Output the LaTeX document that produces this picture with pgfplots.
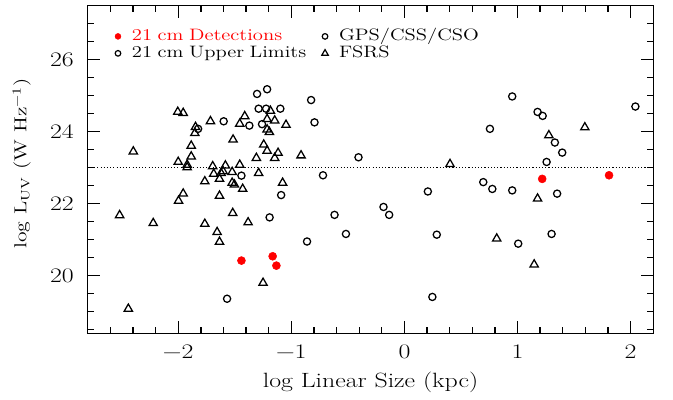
\documentclass[border=0pt]{standalone}
\usepackage{fontspec}
\setmainfont{Latin Modern Roman}[FakeStretch=1.25]
\usepackage{pgfplots}
\pgfplotsset{compat=1.18}
\pgfplotsset{
  legimg/.style={legend image code/.code={\path[draw=none,fill=none] (-4pt,-4pt) rectangle (10.5pt,4pt); \draw plot coordinates {(0pt,0pt)};}}
}
\begin{document}
\begin{tikzpicture}
\useasboundingbox (-65.8pt,-49.3pt) rectangle (439pt,250pt);
\begin{axis}[
  scale only axis, width=424.2pt, height=245.7pt,
  at={(0,0)}, anchor=south west,
  xmin=-2.8, xmax=2.2, ymin=18.4, ymax=27.5,
  axis line style={line width=1pt},
  tick align=inside, tick pos=both,
  xticklabel pos=lower, yticklabel pos=left,
  xtick={-2,-1,0,1,2}, xticklabels={−2,−1,0,1,2},
  ytick={20,22,24,26}, yticklabels={20,22,24,26},
  minor xtick={-2.6,-2.4,-2.2,-1.8,-1.6,-1.4,-1.2,-0.8,-0.6,-0.4,-0.2,0.2,0.4,0.6,0.8,1.2,1.4,1.6,1.8},
  minor ytick={18.5,19,19.5,20.5,21,21.5,22.5,23,23.5,24.5,25,25.5,26.5,27},
  major tick length=9pt, minor tick length=5pt,
  every tick/.style={black, line width=1pt},
  xticklabel style={font=\fontsize{15.5}{18}\selectfont, anchor=north, inner sep=0pt, yshift=-8.8pt},
  yticklabel style={font=\fontsize{15.5}{18}\selectfont, anchor=east, inner sep=0pt, xshift=-10.3pt},
  xlabel={log Linear Size (kpc)},
  xlabel style={font=\fontsize{15.5}{18}\selectfont, at={(axis description cs:0.5,0)}, anchor=base, inner sep=0pt, yshift=-40.3pt},
  ylabel={log L\textsubscript{UV} (W Hz\textsuperscript{−1})},
  ylabel style={font=\fontsize{13}{15}\selectfont, at={(axis description cs:-0.1167,0.518)}, anchor=center, inner sep=0pt},
  legend columns=2,
  legend cell align=left,
  legend style={at={(axis description cs:0,1)}, anchor=north west, xshift=18.7pt, yshift=-17.75pt,
    draw=none, fill=none, inner sep=0pt, outer sep=0pt, row sep=2.2pt, column sep=0pt,
    font=\fontsize{12.4}{14}\selectfont,
    nodes={inner sep=0pt, text height=8pt, text depth=2.5pt, text width=140.8pt, align=left}},
]
\addplot[forget plot, black, line width=0.8pt, dash pattern=on 0.8pt off 1.6pt] coordinates {(-2.8,23) (2.2,23)};

% 21 cm detections
\addplot[forget plot, only marks, mark=*, mark size=3pt, color=red, mark options={fill=red, draw=red}] coordinates {
(-1.441,20.42) (-1.165,20.54) (-1.132,20.28) (1.218,22.69) (1.809,22.79)
};

% open circles
\addplot[forget plot, only marks, mark=o, mark size=2.7pt, black, mark options={line width=0.95pt}] coordinates {
(-1.824,24.08) (-1.598,24.29) (-1.371,24.17) (-1.303,25.05) (-1.214,25.18)
(-1.289,24.64) (-1.223,24.64) (-1.097,24.64) (-1.259,24.21) (-0.825,24.88)
(-0.795,24.26) (-1.441,22.78) (-1.090,22.24) (-1.192,21.62) (-0.861,20.95)
(-1.568,19.36) (-0.406,23.29) (-0.720,22.79) (0.207,22.34) (-0.618,21.69)
(-0.185,21.91) (-0.135,21.69) (-0.517,21.16) (0.286,21.14) (0.247,19.41)
(0.953,24.98) (1.177,24.55) (1.222,24.44) (2.042,24.70) (0.756,24.08)
(1.330,23.70) (1.395,23.42) (1.257,23.16) (0.697,22.60) (0.777,22.41)
(0.953,22.37) (1.350,22.28) (1.006,20.89) (1.301,21.16)
};

% triangles (FSRS)
\addplot[forget plot, only marks, mark=triangle, mark size=3.6pt, black, mark options={line width=0.95pt}] coordinates {
(-2.397,23.45) (-2.004,24.55) (-1.956,24.52) (-1.847,24.13) (-1.853,23.96)
(-1.715,24.29) (-1.885,23.61) (-1.885,23.31) (-2.000,23.16) (-1.921,23.08)
(-1.921,23.01) (-1.515,23.78) (-1.412,24.43) (-1.456,24.22) (-1.185,24.58)
(-1.214,24.35) (-1.147,24.31) (-1.047,24.19) (-1.214,24.06) (-1.194,23.99)
(-1.244,23.64) (-1.214,23.47) (-1.117,23.41) (-1.309,23.27) (-1.147,23.27)
(-0.914,23.34) (-1.695,23.04) (-1.583,23.06) (-1.456,23.08) (-1.603,22.90)
(-1.621,22.85) (-1.686,22.83) (-1.523,22.88) (-1.289,22.85) (-1.765,22.62)
(-1.635,22.69) (-1.523,22.58) (-1.503,22.53) (-1.430,22.41) (-1.077,22.58)
(-1.956,22.28) (-1.997,22.08) (-1.635,22.22) (-2.518,21.68) (-2.221,21.46)
(-1.765,21.44) (-1.518,21.74) (-1.382,21.48) (-1.656,21.21) (-1.635,20.94)
(-1.250,19.80) (-2.441,19.08) (0.403,23.10) (1.595,24.12) (1.277,23.90)
(1.177,22.14) (0.816,21.03) (1.147,20.31)
};

\addlegendimage{legimg, only marks, mark=*, mark size=2.2pt, color=red, mark options={fill=red, draw=red}}
\addlegendentry{\textcolor{red}{21 cm Detections}}
\addlegendimage{legimg, only marks, mark=o, mark size=2.1pt, black, mark options={line width=0.9pt}}
\addlegendentry{GPS/CSS/CSO}
\addlegendimage{legimg, only marks, mark=o, mark size=2.1pt, black, mark options={line width=0.9pt}}
\addlegendentry{21 cm Upper Limits}
\addlegendimage{legimg, only marks, mark=triangle, mark size=2.8pt, black, mark options={line width=0.9pt}}
\addlegendentry{FSRS}
\end{axis}
\end{tikzpicture}
\end{document}
